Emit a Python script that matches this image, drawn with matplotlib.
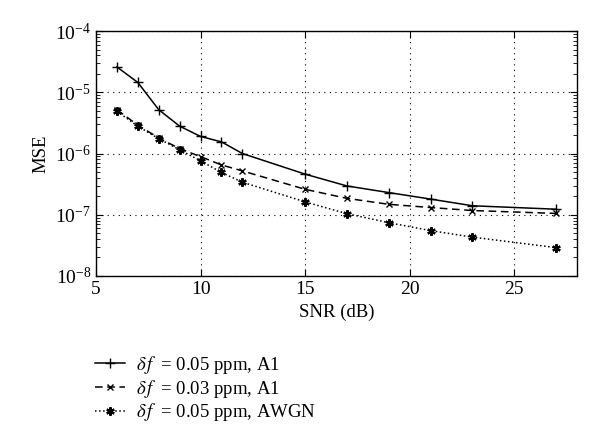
import numpy as np
import matplotlib
matplotlib.use("Agg")
import matplotlib.pyplot as plt
from matplotlib.ticker import LogLocator, NullFormatter

plt.rcParams["font.family"] = ["Liberation Serif", "DejaVu Serif"]
plt.rcParams["mathtext.fontset"] = "stix"

snr = [6, 7, 8, 9, 10, 11, 12, 15, 17, 19, 21, 23, 27]
mse_a1_005 = [2.6e-5, 1.45e-5, 5.2e-6, 2.8e-6, 1.9e-6, 1.55e-6, 1.0e-6,
              4.6e-7, 2.95e-7, 2.3e-7, 1.8e-7, 1.4e-7, 1.23e-7]
mse_a1_003 = [5.2e-6, 2.9e-6, 1.8e-6, 1.2e-6, 8.9e-7, 6.5e-7, 5.2e-7,
              2.6e-7, 1.85e-7, 1.48e-7, 1.31e-7, 1.17e-7, 1.05e-7]
mse_awgn = [4.9e-6, 2.8e-6, 1.75e-6, 1.15e-6, 7.6e-7, 4.9e-7, 3.4e-7,
            1.62e-7, 1.04e-7, 7.4e-8, 5.5e-8, 4.3e-8, 2.9e-8]
labels = [r"$\delta\,f\;$ = 0.05 ppm, A1",
          r"$\delta\,f\;$ = 0.03 ppm, A1",
          r"$\delta\,f\;$ = 0.05 ppm, AWGN"]

fig = plt.figure(figsize=(6, 4.45), dpi=100)
ax = fig.add_axes([0.16, 0.38, 0.8017, 0.55])

ax.semilogy(snr, mse_a1_005, "-", color="black", lw=1.1, marker="+",
            ms=7, mew=1.0, label=labels[0])
ax.semilogy(snr, mse_a1_003, "--", color="black", lw=1.1, marker="x",
            ms=5, mew=1.0, label=labels[1], dashes=(5, 3))
ax.semilogy(snr, mse_awgn, ":", color="black", lw=1.1, marker=(6, 2, 0),
            ms=6, mew=1.6, label=labels[2])

ax.set_xlim(5, 28)
ax.set_ylim(1e-8, 1e-4)
ax.set_xticks([5, 10, 15, 20, 25])
ax.yaxis.set_major_locator(LogLocator(base=10, numticks=10))
ax.yaxis.set_minor_locator(LogLocator(base=10, subs=np.arange(2, 10), numticks=10))
ax.yaxis.set_minor_formatter(NullFormatter())
ax.tick_params(which="both", direction="in", top=True, right=True,
               labelsize=14, color="black")
ax.tick_params(which="major", length=5)
ax.tick_params(which="minor", length=3)
ax.grid(True, which="major", linestyle=(0, (1, 4)), color="black", lw=0.8)
for s in ax.spines.values():
    s.set_linewidth(1.0)

ax.set_xlabel("SNR (dB)", fontsize=13.5)
ax.set_ylabel("MSE", fontsize=13.5)

fig.legend(loc="upper left", bbox_to_anchor=(0.145, 0.222), frameon=False,
           fontsize=13.5, handlelength=1.6, labelspacing=0.1, handletextpad=0.6,
           borderaxespad=0.0)

fig.savefig("out.png", dpi=100)
